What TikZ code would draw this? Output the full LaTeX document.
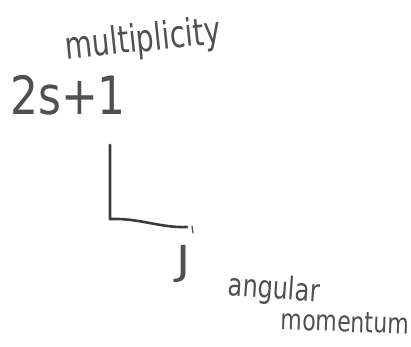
\documentclass[tikz,border=0pt]{standalone}
\usepackage{fontspec}
\setmainfont{DejaVu Sans}
\definecolor{pencil}{HTML}{505050}
\definecolor{pencildark}{HTML}{3C3C3C}
\begin{document}
\begin{tikzpicture}[x=1pt,y=-1pt,
  hand/.style={text=pencil, inner sep=0pt, anchor=center},
  stroke/.style={draw=pencildark, line width=2.6pt, line cap=round, line join=round}]
\useasboundingbox (0,0) rectangle (411,346);
\fill[white] (0,0) rectangle (411,346);
% labels
\node[hand, rotate=6, font=\fontsize{28}{34}\selectfont] (mult) at (143,41) {\scalebox{1}[1.35]{multiplicity}};
\node[hand, font=\fontsize{44}{50}\selectfont] (spin) at (68,95) {\scalebox{1}[1.2]{2s+1}};
\node[hand, font=\fontsize{40}{46}\selectfont] (jj) at (184,264) {\scalebox{1.2}[1]{J}};
\node[hand, rotate=-4, font=\fontsize{24}{28}\selectfont] (ang) at (274,290) {\scalebox{1}[1.3]{angular}};
\node[hand, rotate=-2, font=\fontsize{22}{26}\selectfont] (mom) at (345,322) {\scalebox{1}[1.3]{momentum}};
% the L
\coordinate (ltop) at (110,145);
\coordinate (lcorner) at (110,219);
\coordinate (lend) at (187,227);
\draw[stroke] (ltop) -- (lcorner) .. controls (140,218) and (160,228) .. (lend);
\coordinate (tickA) at (192,226);
\coordinate (tickB) at (193,233);
\draw[draw=pencil, line width=1.2pt, line cap=round] (tickA) -- (tickB);
\end{tikzpicture}
\end{document}
